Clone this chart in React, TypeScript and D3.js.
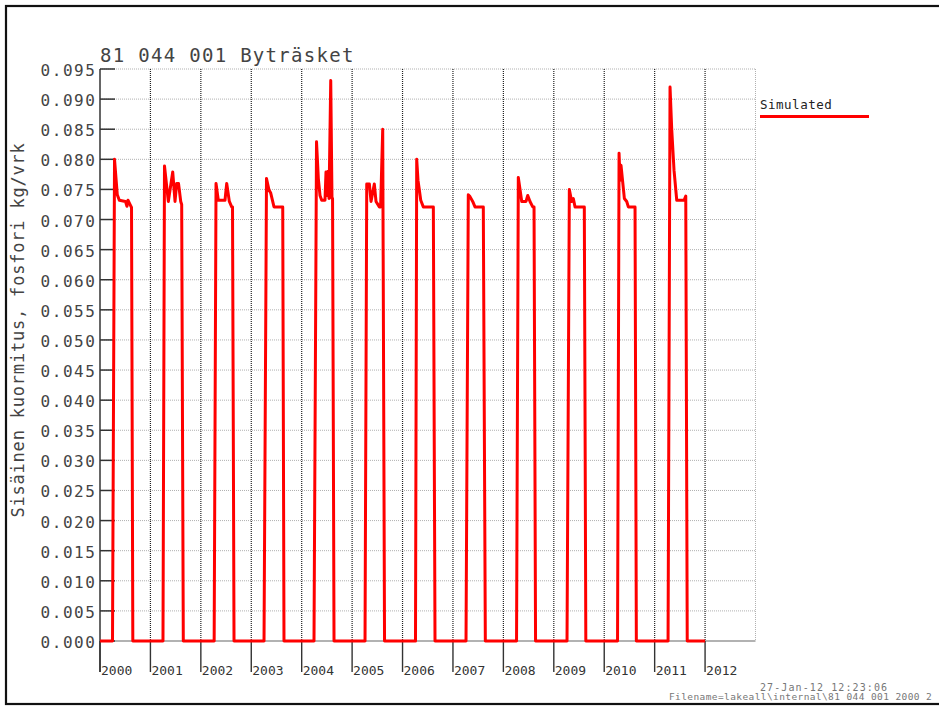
import React from "react";
import * as d3 from "d3";

const titleText = "81 044 001 Byträsket";
const yAxisLabel = "Sisäinen kuormitus, fosfori kg/vrk";
const legendLabel = "Simulated";
const timestampText = "27-Jan-12 12:23:06";
const filenameText = "Filename=lakeall\\internal\\81 044 001 2000 2";

const yearTicks = [2000, 2001, 2002, 2003, 2004, 2005, 2006, 2007, 2008, 2009, 2010, 2011, 2012];
const yTicks = [0, 0.005, 0.01, 0.015, 0.02, 0.025, 0.03, 0.035, 0.04, 0.045, 0.05, 0.055, 0.06, 0.065, 0.07, 0.075, 0.08, 0.085, 0.09, 0.095];

// [decimal year, kg/vrk]
const simulated: [number, number][] = [
  [2000.0, 0],
  [2000.248, 0], [2000.288, 0.08], [2000.343, 0.0741], [2000.383, 0.0732], [2000.506, 0.073], [2000.535, 0.0722], [2000.555, 0.0732], [2000.595, 0.0725], [2000.625, 0.072], [2000.651, 0],
  [2001.249, 0], [2001.279, 0.0789], [2001.355, 0.073], [2001.442, 0.0779], [2001.488, 0.073], [2001.521, 0.076], [2001.557, 0.076], [2001.601, 0.073], [2001.62, 0.0725], [2001.652, 0],
  [2002.264, 0], [2002.301, 0.076], [2002.346, 0.0732], [2002.479, 0.0732], [2002.513, 0.076], [2002.565, 0.073], [2002.612, 0.0721], [2002.628, 0.0721], [2002.658, 0],
  [2003.253, 0], [2003.302, 0.0768], [2003.352, 0.0749], [2003.386, 0.0744], [2003.451, 0.0721], [2003.624, 0.0721], [2003.649, 0],
  [2004.244, 0], [2004.294, 0.0829], [2004.33, 0.0768], [2004.363, 0.074], [2004.397, 0.0732], [2004.462, 0.0732], [2004.482, 0.0779], [2004.502, 0.074], [2004.522, 0.078], [2004.542, 0.0735], [2004.576, 0.0931], [2004.601, 0.0735], [2004.612, 0.0735], [2004.641, 0],
  [2005.256, 0], [2005.29, 0.0759], [2005.342, 0.0759], [2005.375, 0.073], [2005.44, 0.0759], [2005.474, 0.073], [2005.54, 0.0721], [2005.565, 0.0721], [2005.607, 0.085], [2005.643, 0],
  [2006.257, 0], [2006.281, 0.08], [2006.307, 0.0765], [2006.361, 0.0732], [2006.412, 0.0721], [2006.611, 0.0721], [2006.644, 0],
  [2007.259, 0], [2007.304, 0.0741], [2007.338, 0.0738], [2007.391, 0.073], [2007.437, 0.0721], [2007.602, 0.0721], [2007.642, 0],
  [2008.261, 0], [2008.296, 0.077], [2008.364, 0.073], [2008.449, 0.073], [2008.483, 0.074], [2008.528, 0.073], [2008.582, 0.0721], [2008.608, 0.0721], [2008.638, 0],
  [2009.262, 0], [2009.308, 0.075], [2009.355, 0.073], [2009.387, 0.0735], [2009.421, 0.0721], [2009.605, 0.0721], [2009.635, 0],
  [2010.264, 0], [2010.294, 0.081], [2010.313, 0.0765], [2010.333, 0.079], [2010.399, 0.0735], [2010.446, 0.073], [2010.478, 0.0721], [2010.611, 0.0721], [2010.637, 0],
  [2011.266, 0], [2011.305, 0.092], [2011.339, 0.0849], [2011.384, 0.0782], [2011.438, 0.0732], [2011.583, 0.0732], [2011.617, 0.0739], [2011.646, 0],
  [2012.0, 0],
];

const W = 939;
const H = 707;
const left = 100;
const right = 755.5;
const top = 69;
const bottom = 641;
const mono = "'DejaVu Sans Mono', monospace";

export default function App() {
  const x = d3.scaleLinear().domain([2000, 2013]).range([left, right]);
  const y = d3.scaleLinear().domain([0, 0.095]).range([bottom, top]);
  const line = d3
    .line<[number, number]>()
    .x((d) => x(d[0]))
    .y((d) => y(d[1]));

  return (
    <div style={{ position: "absolute", left: 0, top: 0, width: W, height: H, background: "#fff" }}>
      <svg width={W} height={H} style={{ display: "block" }}>
        <rect x={0} y={0} width={W} height={H} fill="#fff" />
        <rect x={6} y={6} width={W + 10} height={698} fill="none" stroke="#111" strokeWidth={2.2} />

        {/* horizontal grid */}
        {yTicks.slice(1).map((t) => (
          <line key={"hg" + t} x1={left} x2={right} y1={y(t)} y2={y(t)} stroke="#b0b0b0" strokeWidth={1} strokeDasharray="1,1" />
        ))}
        {/* right edge */}
        <line x1={right} x2={right} y1={top} y2={bottom} stroke="#b0b0b0" strokeWidth={1} strokeDasharray="1,1" />
        {/* vertical year lines */}
        {yearTicks.slice(1).map((t) => (
          <line key={"vg" + t} x1={x(t)} x2={x(t)} y1={top} y2={bottom} stroke="#222" strokeWidth={1.2} strokeDasharray="1,1" />
        ))}
        {/* x axis baseline */}
        <line x1={left} x2={right} y1={bottom} y2={bottom} stroke="#666" strokeWidth={1.2} />
        {/* year ticks */}
        {yearTicks.map((t) => (
          <line key={"xt" + t} x1={x(t)} x2={x(t)} y1={bottom} y2={672} stroke="#333" strokeWidth={1.4} />
        ))}
        {yearTicks.map((t) => (
          <text key={"xl" + t} x={x(t) + 1} y={675} fontFamily={mono} fontSize={13} fill="#333">
            {t}
          </text>
        ))}
        {/* y axis */}
        <line x1={left} x2={left} y1={top} y2={672} stroke="#333" strokeWidth={1.5} />
        {yTicks.map((t) => (
          <line key={"yt" + t} x1={left} x2={left + 15} y1={y(t)} y2={y(t)} stroke="#333" strokeWidth={1.5} />
        ))}
        {yTicks.map((t) => (
          <text key={"yl" + t} x={96.6} y={y(t) + 7} textAnchor="end" fontFamily={mono} fontSize={16} letterSpacing={1.6} fill="#444">
            {t.toFixed(3)}
          </text>
        ))}

        {/* series */}
        <path d={line(simulated) || ""} fill="none" stroke="#ff0000" strokeWidth={3} strokeLinejoin="round" />

        {/* title */}
        <text x={100} y={62} fontFamily={mono} fontSize={19} letterSpacing={1.3} fill="#444">
          {titleText}
        </text>
        {/* y axis label */}
        <text
          transform={`translate(23.5,330) rotate(-90)`}
          textAnchor="middle"
          fontFamily={mono}
          fontSize={17}
          letterSpacing={0.8}
          fill="#444"
        >
          {yAxisLabel}
        </text>

        {/* legend */}
        <text x={760} y={109} fontFamily={mono} fontSize={12.5} letterSpacing={0.5} fill="#222">
          {legendLabel}
        </text>
        <line x1={760} x2={869} y1={116.5} y2={116.5} stroke="#ff0000" strokeWidth={3} />

        {/* footer */}
        <text x={760} y={690.5} fontFamily={mono} fontSize={10} letterSpacing={1.1} fill="#777">
          {timestampText}
        </text>
        <text x={669} y={700} fontFamily={mono} fontSize={9.5} letterSpacing={0.4} fill="#777">
          {filenameText}
        </text>
      </svg>
    </div>
  );
}
